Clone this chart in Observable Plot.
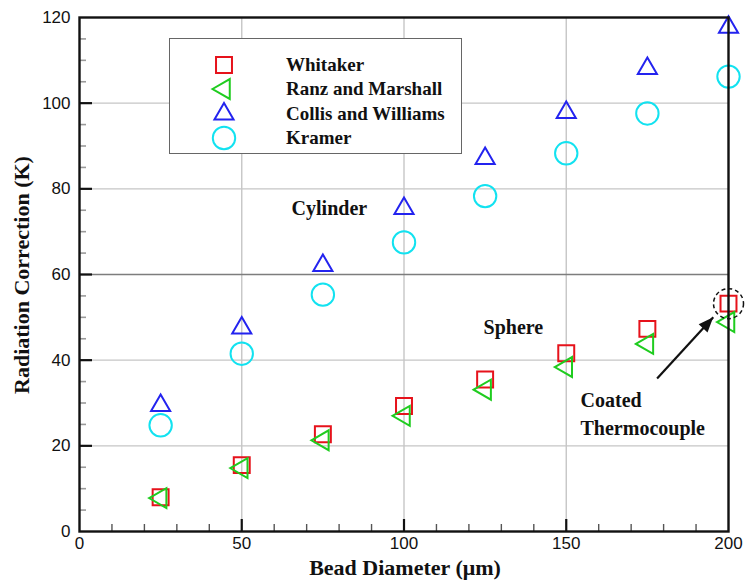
<!DOCTYPE html>
<html>
<head>
<meta charset="utf-8">
<script src="https://cdn.jsdelivr.net/npm/d3@7"></script>
<script src="https://cdn.jsdelivr.net/npm/@observablehq/plot@0.6"></script>
<style>
  body { margin: 0; background: #fff; }
  #chart { position: relative; width: 745px; height: 583px; }
  #chart svg { display: block; }
  .legend {
    position: absolute; left: 169px; top: 38px; width: 293px; height: 116px;
    box-sizing: border-box; border: 1.5px solid #666; background: #fff;
    font: bold 19px "Liberation Serif", "Times New Roman", serif; color: #111;
  }
  .legend .row { position: absolute; left: 0; height: 24px; display: flex; align-items: center; }
  .legend svg { position: absolute; left: 39px; top: -3px; }
  .legend span { position: absolute; left: 116px; white-space: nowrap; top: 1px; }
</style>
</head>
<body>
<div id="chart"></div>
<script>
// Radiation correction versus bead diameter for four convection correlations
const diameters = [25, 50, 75, 100, 125, 150, 175, 200];
const whitaker = [8.0, 15.5, 22.7, 29.3, 35.5, 41.6, 47.3, 53.2];
const ranzMarshall = [7.8, 14.8, 21.3, 27.0, 33.1, 38.4, 43.8, 48.9];
const collisWilliams = [29.4, 47.5, 62.1, 75.4, 87.1, 97.8, 108.1, 117.7];
const kramer = [24.8, 41.5, 55.3, 67.5, 78.3, 88.3, 97.6, 106.2];

const seriesNames = ["Whitaker", "Ranz and Marshall", "Collis and Williams", "Kramer"];
const seriesColors = ["#e6121b", "#1fcc1f", "#2323ef", "#12e2f0"];

const xTicks = [0, 50, 100, 150, 200];
const yTicks = [0, 20, 40, 60, 80, 100, 120];

// Annotations (in data units)
const cylinderLabel = {x: 77, y: 75.3, text: "Cylinder"};
const sphereLabel = {x: 133.7, y: 47.6, text: "Sphere"};
const coatedLabel = {x: 154.4, y: 28.0, text: "Coated\nThermocouple"};
const arrowFrom = {x: 178, y: 35.7};
const arrowTo = {x: 195.3, y: 50.0};

// Left-pointing triangle, same proportions as d3.symbolTriangle
const symbolTriangleLeft = {
  draw(context, size) {
    const y = Math.sqrt(size / (Math.sqrt(3) * 3));
    context.moveTo(-2 * y, 0);
    context.lineTo(y, -Math.sqrt(3) * y);
    context.lineTo(y, Math.sqrt(3) * y);
    context.closePath();
  }
};
const seriesSymbols = [d3.symbolSquare, symbolTriangleLeft, d3.symbolTriangle, d3.symbolCircle];
const seriesRadius = [9, 7.4, 7.1, 11.2];
const seriesValues = [whitaker, ranzMarshall, collisWilliams, kramer];

const W = 745, H = 583;
const margin = {top: 17, right: 17, bottom: 52, left: 79};
const plotW = W - margin.left - margin.right;
const plotH = H - margin.top - margin.bottom;

const xScale = Plot.scale({x: {domain: [0, 200], range: [margin.left, W - margin.right]}});
const yScale = Plot.scale({y: {domain: [0, 120], range: [H - margin.bottom, margin.top]}});

// Filled arrowhead with its apex at the origin, oriented along the arrow
const headAngle = Math.atan2(
  yScale.apply(arrowTo.y) - yScale.apply(arrowFrom.y),
  xScale.apply(arrowTo.x) - xScale.apply(arrowFrom.x)
);
const arrowHead = {
  draw(ctx) {
    const L = 15, w = 6, c = Math.cos(headAngle), s = Math.sin(headAngle);
    const bx = -L * c, by = -L * s;
    ctx.moveTo(0, 0);
    ctx.lineTo(bx - w * s, by + w * c);
    ctx.lineTo(bx + w * s, by - w * c);
    ctx.closePath();
  }
};

const series = seriesNames.map((name, i) =>
  diameters.map((d, j) => ({name, d, v: seriesValues[i][j]}))
);

const minorY = d3.range(5, 120, 5).filter(v => v % 20 !== 0);
const majorY = yTicks.filter(v => v > 0 && v < 120);
const minorX = d3.range(10, 200, 10).filter(v => v % 50 !== 0);
const majorX = xTicks.filter(v => v > 0 && v < 200);

const serif = '"Liberation Serif", "Times New Roman", serif';
const sans = '"Liberation Sans", Arial, sans-serif';

const chart = Plot.plot({
  width: W,
  height: H,
  marginTop: margin.top,
  marginRight: margin.right,
  marginBottom: margin.bottom,
  marginLeft: margin.left,
  style: {background: "#fff", overflow: "visible"},
  x: {domain: [0, 200]},
  y: {domain: [0, 120]},
  marks: [
    Plot.ruleX(majorX, {stroke: "#c6c6c6", strokeWidth: 1.4}),
    Plot.ruleY(majorY, {stroke: d => d === 60 ? "#7d7d7d" : "#c6c6c6", strokeWidth: 1.4}),
    Plot.tickY(minorY, {y: d => d, insetRight: plotW - 7, stroke: "#9a9a9a", strokeWidth: 1.6}),
    Plot.tickY(majorY, {y: d => d, insetRight: plotW - 13, stroke: "#111", strokeWidth: 2.2}),
    Plot.tickX(minorX, {x: d => d, insetTop: plotH - 7, stroke: "#555", strokeWidth: 1.4}),
    Plot.tickX(majorX, {x: d => d, insetTop: plotH - 12, stroke: "#111", strokeWidth: 2.2}),
    ...series.map((data, i) =>
      Plot.dot(data, {
        x: "d", y: "v",
        symbol: seriesSymbols[i],
        r: seriesRadius[i],
        stroke: seriesColors[i],
        strokeWidth: 2,
        fill: "none"
      })
    ),
    Plot.frame({stroke: "#111", strokeWidth: 2.4}),
    Plot.axisX(xTicks, {tickSize: 0, tickPadding: 5, fontSize: 17, fontFamily: sans, fill: "#111", label: null}),
    Plot.axisY(yTicks, {tickSize: 0, tickPadding: 9, fontSize: 17, fontFamily: sans, fill: "#111", label: null}),
    Plot.text([cylinderLabel, sphereLabel], {
      x: "x", y: "y", text: "text",
      fontSize: 20, fontWeight: "bold", fontFamily: serif, fill: "#111"
    }),
    Plot.text([coatedLabel], {
      x: "x", y: "y", text: "text", textAnchor: "start", lineHeight: 1.4,
      fontSize: 20, fontWeight: "bold", fontFamily: serif, fill: "#111"
    }),
    Plot.dot([{x: diameters[7], y: whitaker[7]}], {
      x: "x", y: "y", r: 15, stroke: "#111", strokeWidth: 1.5, strokeDasharray: "4,3", fill: "none"
    }),
    Plot.link([{x1: arrowFrom.x, y1: arrowFrom.y, x2: arrowTo.x, y2: arrowTo.y}], {
      x1: "x1", y1: "y1", x2: "x2", y2: "y2", stroke: "#111", strokeWidth: 2.2
    }),
    Plot.dot([arrowTo], {x: "x", y: "y", symbol: arrowHead, r: 5, fill: "#111", stroke: "none"})
  ]
});

// Axis titles
const svg = d3.select(chart);
svg.append("text")
  .attr("x", 405).attr("y", 575)
  .attr("text-anchor", "middle")
  .attr("font-family", serif).attr("font-weight", "bold").attr("font-size", 22)
  .attr("fill", "#111")
  .text("Bead Diameter (μm)");
svg.append("text")
  .attr("transform", "translate(29,275) rotate(-90)")
  .attr("text-anchor", "middle")
  .attr("font-family", serif).attr("font-weight", "bold").attr("font-size", 22)
  .attr("fill", "#111")
  .text("Radiation Correction (K)");

const container = document.getElementById("chart");
container.appendChild(chart);

// Legend box
const legend = document.createElement("div");
legend.className = "legend";
seriesNames.forEach((name, i) => {
  const row = document.createElement("div");
  row.className = "row";
  row.style.top = (14 + i * 24.3) + "px";
  const sw = d3.create("svg").attr("width", 30).attr("height", 30);
  sw.append("path")
    .attr("transform", "translate(15,15)")
    .attr("d", d3.symbol(seriesSymbols[i], Math.PI * seriesRadius[i] ** 2)())
    .attr("fill", "none").attr("stroke", seriesColors[i]).attr("stroke-width", 2);
  row.appendChild(sw.node());
  const label = document.createElement("span");
  label.textContent = name;
  row.appendChild(label);
  legend.appendChild(row);
});
container.appendChild(legend);
</script>
</body>
</html>
